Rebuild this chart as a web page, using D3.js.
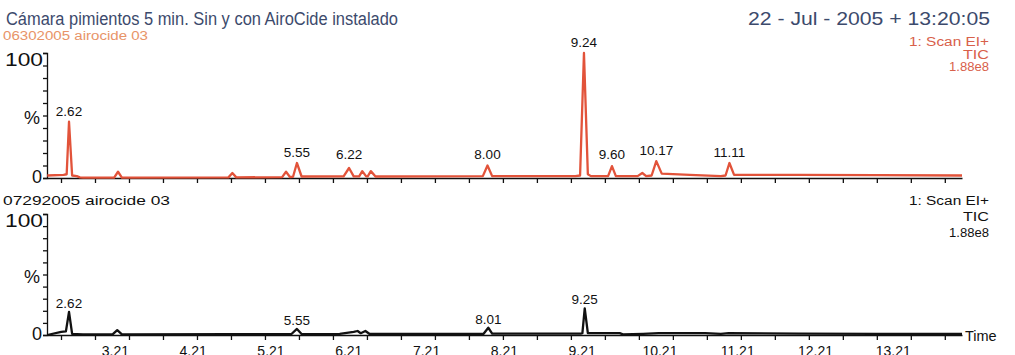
<!DOCTYPE html>
<html><head><meta charset="utf-8">
<script src="https://cdn.jsdelivr.net/npm/d3@7"></script>
<style>
body{margin:0;background:#fff}
svg{display:block}
text{font-family:"Liberation Sans",Arial,Helvetica,sans-serif}
</style>
</head><body>
<svg id="c" width="1015" height="355"></svg>
<script>
// ---------- data ----------
const topTimes  = [2.34, 2.55, 2.59, 2.62, 2.66, 2.72, 2.76, 2.80, 3.20, 3.25, 3.30, 4.67, 4.72, 4.77, 5.36, 5.41, 5.46, 5.50, 5.55, 5.61, 6.15, 6.22, 6.28, 6.35, 6.39, 6.44, 6.46, 6.50, 6.56, 7.94, 8.00, 8.06, 9.13, 9.19, 9.24, 9.29, 9.33, 9.55, 9.60, 9.65, 9.93, 9.99, 10.04, 10.11, 10.17, 10.24, 10.60, 11.00, 11.06, 11.11, 11.17, 12.00, 13.00, 14.10];
const topValues = [2, 2.5, 3, 45, 2, 1.5, 0.5, 0.3, 0.3, 5, 0.3, 0.5, 4, 0.5, 0.7, 5, 0.8, 1, 12, 1.2, 1.3, 8, 1.3, 1.3, 5.5, 1.3, 1.3, 5.5, 1.2, 1.5, 10, 1.5, 1.5, 2, 100, 3, 1.5, 1.5, 9.5, 1.5, 1.5, 4, 1.5, 2, 13.5, 3.5, 2.5, 1.5, 2, 12, 2.5, 2.5, 2.3, 2];
const topPeakTimes  = [2.62, 5.55, 6.22, 8.00, 9.24, 9.60, 10.17, 11.11];
const topPeakValues = [45, 12, 8, 10, 100, 9.5, 13.5, 12];
const topPeakLabels = ["2.62", "5.55", "6.22", "8.00", "9.24", "9.60", "10.17", "11.11"];

const bottomTimes  = [2.34, 2.52, 2.58, 2.62, 2.66, 2.72, 2.80, 3.18, 3.24, 3.30, 4.70, 5.48, 5.55, 5.61, 6.10, 6.28, 6.33, 6.37, 6.43, 6.48, 7.95, 8.01, 8.06, 9.20, 9.22, 9.25, 9.29, 9.70, 9.74, 10.00, 10.20, 10.80, 11.00, 11.10, 12.00, 13.00, 14.10];
const bottomValues = [0, 2.5, 3, 19, 1, 0.8, 0.5, 0.5, 4, 0.5, 0.6, 0.8, 5, 0.8, 1, 2.5, 3.3, 1.5, 3.3, 1, 1, 6, 1.2, 1.2, 1.5, 22, 1.5, 1.5, 0.5, 1, 1.5, 1.5, 1, 1.5, 1.2, 1, 1];
const bottomPeakTimes  = [2.62, 5.55, 8.01, 9.25];
const bottomPeakValues = [19, 5, 6, 22];
const bottomPeakLabels = ["2.62", "5.55", "8.01", "9.25"];

const xTickValues = [3.21, 4.21, 5.21, 6.21, 7.21, 8.21, 9.21, 10.21, 11.21, 12.21, 13.21];
const xTickLabels = ["3.21", "4.21", "5.21", "6.21", "7.21", "8.21", "9.21", "10.21", "11.21", "12.21", "13.21"];
const yTickValues = [0, 10, 20, 30, 40, 50, 60, 70, 80, 90, 100];
const yTickLabels = ["0", "%", "100"];

const titleText = "Cámara pimientos 5 min. Sin y con AiroCide instalado";
const dateText = "22 - Jul - 2005 + 13:20:05";
const topSample = "06302005 airocide 03";
const bottomSample = "07292005 airocide 03";
const topInfo = ["1: Scan EI+", "TIC", "1.88e8"];
const bottomInfo = ["1: Scan EI+", "TIC", "1.88e8"];

// ---------- drawing ----------
const svg = d3.select("#c");
const RED = "#e2533a";
const x = d3.scaleLinear().domain([2.337, 14.10]).range([47, 962]);
const yTop = d3.scaleLinear().domain([0, 100]).range([178, 53]);
const yBot = d3.scaleLinear().domain([0, 100]).range([335, 214]);

function txt(xp, yp, size, color, t, anchor, len) {
  const e = svg.append("text").attr("x", xp).attr("y", yp).attr("font-size", size)
    .attr("fill", color).attr("text-anchor", anchor || "start").text(t);
  if (len) e.attr("textLength", len).attr("lengthAdjust", "spacingAndGlyphs");
  return e;
}

// header
txt(6, 25, 17.5, "#3c4a6c", titleText, "start", 392);
txt(990, 25, 17.5, "#3c4a6c", dateText, "end", 242);
txt(3, 40, 12.5, "#e89468", topSample, "start", 145);
txt(3, 205, 13, "#111", bottomSample, "start", 167);

const infoLens = [80, 26, 40];
topInfo.forEach((t, i) => txt(989, 46 + i * 12.5, 12, "#d8604a", t, "end", infoLens[i]));
bottomInfo.forEach((t, i) => txt(989, 205 + i * 16, 12.5, "#111", t, "end", infoLens[i]));

function panel(y, times, values, color, pTimes, pValues, pLabels, labelFn, showTickLabels) {
  const g = svg.append("g");
  const yAxis = d3.axisLeft(y).tickValues(yTickValues).tickSize(4).tickFormat("");
  const ya = g.append("g").attr("transform", "translate(47,0)").call(yAxis);
  ya.selectAll("path,line").attr("stroke", "#111").attr("stroke-width", 1.3);
  const y0 = y(0), y100 = y(100), yMid = y(50);
  g.append("text").attr("x", 43).attr("y", y100 + 13).attr("text-anchor", "end").attr("font-size", 18)
    .attr("textLength", 38).attr("lengthAdjust", "spacingAndGlyphs").attr("fill", "#111").text(yTickLabels[2]);
  g.append("text").attr("x", 40).attr("y", yMid + 8).attr("text-anchor", "end").attr("font-size", 18).attr("fill", "#111").text(yTickLabels[1]);
  g.append("text").attr("x", 42).attr("y", y0 + 5).attr("text-anchor", "end").attr("font-size", 18).attr("fill", "#111").text(yTickLabels[0]);
  const xAxis = d3.axisBottom(x).tickValues(d3.range(2.517, 14.05, 0.437)).tickSize(5).tickFormat("").tickSizeOuter(0);
  const xa = g.append("g").attr("transform", `translate(0,${y0})`).call(xAxis);
  xa.selectAll("path,line").attr("stroke", "#111").attr("stroke-width", 1.3);
  if (showTickLabels) {
    const xl = d3.axisBottom(x).tickValues(xTickValues).tickSize(0).tickFormat((d, i) => xTickLabels[i]);
    const xg = g.append("g").attr("transform", `translate(0,${y0})`).call(xl);
    xg.select(".domain").remove();
    xg.selectAll("text").attr("font-size", 14).attr("fill", "#111").attr("dy", "0.71em").attr("y", 11)
      .style("font-family", "Liberation Sans, Arial, sans-serif");
  }
  const line = d3.line().x((d, i) => x(times[i])).y(d => y(d));
  g.append("path").datum(values).attr("d", line).attr("fill", "none")
    .attr("stroke", color).attr("stroke-width", 2.3).attr("stroke-linejoin", "round");
  pLabels.forEach((t, i) => {
    g.append("text").attr("x", x(pTimes[i])).attr("y", labelFn(y(pValues[i])))
      .attr("text-anchor", "middle").attr("font-size", 13.5).attr("fill", "#111").text(t);
  });
  return g;
}

panel(yTop, topTimes, topValues, RED, topPeakTimes, topPeakValues, topPeakLabels, v => Math.min(v - 6, 159), false);
panel(yBot, bottomTimes, bottomValues, "#111", bottomPeakTimes, bottomPeakValues, bottomPeakLabels, v => v - 4, true);

svg.append("text").attr("x", 965).attr("y", 341).attr("font-size", 14.5).attr("fill", "#111").text("Time");
</script>
</body></html>
